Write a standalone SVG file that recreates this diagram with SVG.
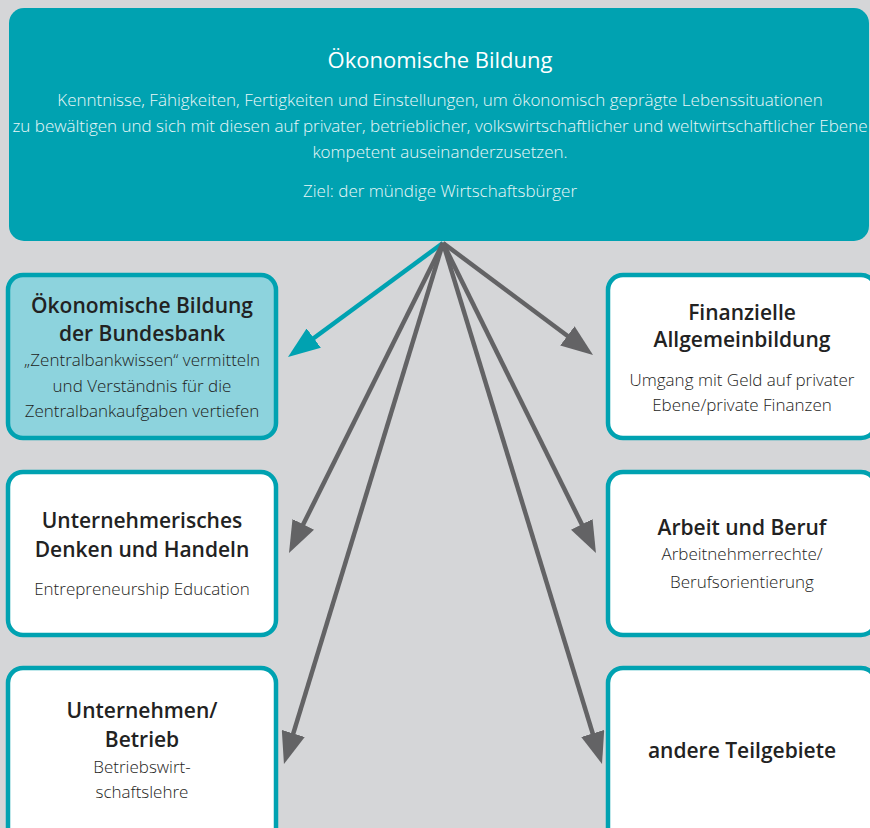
<svg xmlns="http://www.w3.org/2000/svg" width="870" height="828" viewBox="0 0 870 828">
<style>
.box{stroke:#00a2b1;stroke-width:4.5}
.w{fill:#ffffff}
.lt{fill:#8dd3dd}
.t{font-family:"Open Sans","Noto Sans","Liberation Sans",sans-serif;text-anchor:middle}
.h{font-size:21px;font-weight:600;fill:#222222}
.s{font-size:17px;font-weight:300;fill:#1d1d1b}
.top{font-size:17px;font-weight:300;fill:#eaf7f8}
.conn line{stroke:#636365;stroke-width:4.5}
</style>
<defs>
<marker id="ag" viewBox="0 0 32 24" markerWidth="32" markerHeight="24" markerUnits="userSpaceOnUse" refX="12" refY="12" orient="auto"><path d="M0,0 L32,12 L0,24 z" fill="#636365"/></marker>
<marker id="at" viewBox="0 0 32 24" markerWidth="32" markerHeight="24" markerUnits="userSpaceOnUse" refX="12" refY="12" orient="auto"><path d="M0,0 L32,12 L0,24 z" fill="#00a2b1"/></marker>
</defs>
<rect x="0" y="0" width="870" height="828" fill="#d5d6d8"/>
<g id="top">
<rect x="9" y="8" width="860" height="233" rx="15" fill="#00a2b1"/>
<text class="t" x="440" y="68" font-size="22" fill="#ffffff">Ökonomische Bildung</text>
<text class="t top" x="440" y="106">Kenntnisse, Fähigkeiten, Fertigkeiten und Einstellungen, um ökonomisch geprägte Lebenssituationen</text>
<text class="t top" x="440" y="132">zu bewältigen und sich mit diesen auf privater, betrieblicher, volkswirtschaftlicher und weltwirtschaftlicher Ebene</text>
<text class="t top" x="440" y="158">kompetent auseinanderzusetzen.</text>
<text class="t top" x="440" y="197">Ziel: der mündige Wirtschaftsbürger</text>
</g>
<g class="conn">
<line x1="443" y1="243" x2="304.1" y2="345.2" style="stroke:#00a2b1" marker-end="url(#at)"/>
<line x1="443" y1="243" x2="577" y2="343" marker-end="url(#ag)"/>
<line x1="443" y1="243" x2="297.9" y2="535.1" marker-end="url(#ag)"/>
<line x1="443" y1="243" x2="587.1" y2="535.1" marker-end="url(#ag)"/>
<line x1="443" y1="243" x2="289.8" y2="744.9" marker-end="url(#ag)"/>
<line x1="443" y1="243" x2="596.2" y2="744.9" marker-end="url(#ag)"/>
</g>
<g id="bundesbank">
<rect class="box lt" x="8" y="275" width="268" height="163" rx="15"/>
<text class="t h" x="142" y="313">Ökonomische Bildung</text>
<text class="t h" x="142" y="341">der Bundesbank</text>
<text class="t s" x="142" y="366">„Zentralbankwissen“ vermitteln</text>
<text class="t s" x="142" y="392">und Verständnis für die</text>
<text class="t s" x="142" y="417">Zentralbankaufgaben vertiefen</text>
</g>
<g id="finanzielle">
<rect class="box w" x="608" y="275" width="268" height="163" rx="15"/>
<text class="t h" x="742" y="320">Finanzielle</text>
<text class="t h" x="742" y="347">Allgemeinbildung</text>
<text class="t s" x="742" y="386">Umgang mit Geld auf privater</text>
<text class="t s" x="742" y="411">Ebene/private Finanzen</text>
</g>
<g id="unternehmerisch">
<rect class="box w" x="8" y="472" width="268" height="163" rx="15"/>
<text class="t h" x="142" y="528">Unternehmerisches</text>
<text class="t h" x="142" y="557">Denken und Handeln</text>
<text class="t s" x="142" y="595">Entrepreneurship Education</text>
</g>
<g id="arbeit">
<rect class="box w" x="608" y="472" width="268" height="163" rx="15"/>
<text class="t h" x="742" y="535">Arbeit und Beruf</text>
<text class="t s" x="742" y="560">Arbeitnehmerrechte/</text>
<text class="t s" x="742" y="588">Berufsorientierung</text>
</g>
<g id="unternehmen">
<rect class="box w" x="8" y="668" width="268" height="180" rx="15"/>
<text class="t h" x="142" y="718">Unternehmen/</text>
<text class="t h" x="142" y="747">Betrieb</text>
<text class="t s" x="142" y="773">Betriebswirt-</text>
<text class="t s" x="142" y="798">schaftslehre</text>
</g>
<g id="andere">
<rect class="box w" x="608" y="668" width="268" height="180" rx="15"/>
<text class="t h" x="742" y="758">andere Teilgebiete</text>
</g>
</svg>
